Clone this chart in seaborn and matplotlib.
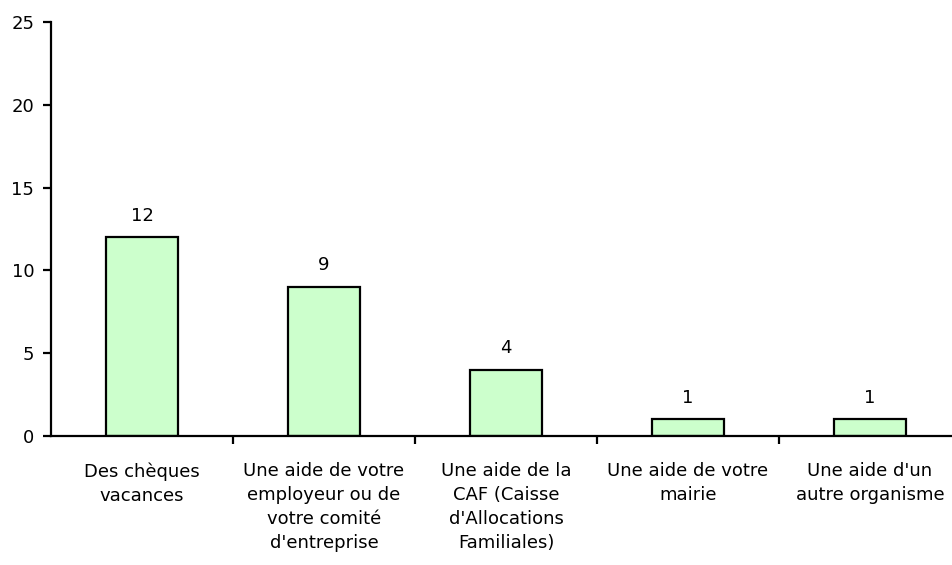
import matplotlib
matplotlib.use("Agg")
import matplotlib.pyplot as plt
import seaborn as sns
import pandas as pd
from matplotlib.ticker import FixedLocator

categories = [
    "Des chèques\nvacances",
    "Une aide de votre\nemployeur ou de\nvotre comité\nd'entreprise",
    "Une aide de la\nCAF (Caisse\nd'Allocations\nFamiliales)",
    "Une aide de votre\nmairie",
    "Une aide d'un\nautre organisme",
]
values = [12, 9, 4, 1, 1]
y_ticks = [0, 5, 10, 15, 20, 25]

sns.set_theme(style="white")
plt.rcParams['font.family'] = ['DejaVu Sans']
plt.rcParams['text.color'] = 'black'
plt.rcParams['xtick.color'] = 'black'
plt.rcParams['ytick.color'] = 'black'

df = pd.DataFrame({"cat": categories, "val": values})

fig = plt.figure(figsize=(9.53, 5.65), dpi=100)
ax = fig.add_axes([51/953, 1-436/565, 910/953, (436-22)/565])

sns.barplot(data=df, x="cat", y="val", ax=ax, color="#CCFFCC",
            edgecolor="black", linewidth=1.6, width=0.4, saturation=1)

ax.set_xlim(-0.5, 4.5)
ax.set_ylim(0, 25)
ax.set_yticks(y_ticks)
ax.set_xlabel("")
ax.set_ylabel("")

for s in ["top", "right"]:
    ax.spines[s].set_visible(False)
for s in ["left", "bottom"]:
    ax.spines[s].set_linewidth(1.6)
    ax.spines[s].set_color("black")

ax.tick_params(axis="y", direction="out", length=6, width=1.6, color="black",
               labelcolor="black", labelsize=13, pad=6, left=True)
ax.tick_params(axis="x", which="major", length=0, pad=19, labelsize=13,
               labelcolor="black")
ax.xaxis.set_minor_locator(FixedLocator([0.5, 1.5, 2.5, 3.5, 4.5]))
ax.tick_params(axis="x", which="minor", direction="out", length=6, width=1.6,
               color="black", bottom=True)
for lbl in ax.get_xticklabels():
    lbl.set_linespacing(1.42)
    lbl.set_ha("center")
    lbl.set_va("top")

for i, v in enumerate(values):
    ax.annotate(str(v), (i, v), xytext=(0, 9), textcoords="offset points",
                ha="center", va="bottom", fontsize=13, color="black")

ax.grid(False)
fig.savefig("out.png", dpi=100)
